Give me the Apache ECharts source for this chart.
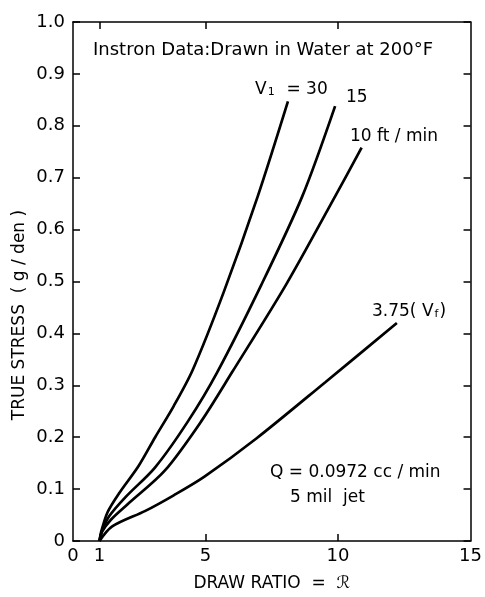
<!DOCTYPE html>
<html>
<head>
<meta charset="utf-8">
<script src="https://cdn.jsdelivr.net/npm/echarts@6/dist/echarts.min.js"></script>
<style>
  html, body { margin: 0; padding: 0; background: #fff; }
  #chart { width: 485px; height: 597px; }
</style>
</head>
<body>
<div id="chart"></div>
<script>
// draw ratio vs true stress, one list per take-up speed
var v30 = [[1,0],[1.06,0.017],[1.3,0.055],[1.74,0.092],[2.48,0.145],[3.1,0.2],[3.8,0.26],[4.52,0.33],[5.69,0.48],[6.97,0.664],[8.11,0.847]];
var v15 = [[1,0],[1.1,0.02],[1.37,0.048],[1.99,0.085],[3.1,0.142],[4.33,0.23],[5.44,0.325],[7.11,0.494],[8.65,0.664],[9.89,0.838]];
var v10 = [[1,0],[1.1,0.018],[1.43,0.041],[2.11,0.073],[3.47,0.136],[4.83,0.23],[6.0,0.325],[8.04,0.494],[9.89,0.664],[10.89,0.758]];
var v375 = [[1,0],[1.48,0.028],[2.73,0.058],[3.8,0.088],[4.96,0.124],[6.93,0.198],[9.52,0.306],[12.22,0.42]];

var xTicks = [0, 1, 5, 10, 15];
var xTickMarks = [1, 5, 10];

var font = 'DejaVu Sans';
var ink = '#000';

const chart = echarts.init(document.getElementById('chart'));

function lineSeries(d) {
    return {
        type: 'line',
        data: d,
        smooth: 0.3,
        symbol: 'none',
        lineStyle: { color: ink, width: 2.7 }
    };
}

function frameAxis(extra) {
    return Object.assign({
        axisLine: { onZero: false, lineStyle: { color: ink, width: 1.5 } },
        axisTick: { inside: true, length: 7, lineStyle: { color: ink, width: 1.5 } },
        splitLine: { show: false }
    }, extra);
}

// normal text + lowered subscript
var subRich = {
    n: { fontSize: 17, fontFamily: font, lineHeight: 22, verticalAlign: 'bottom' },
    s: { fontSize: 11, fontFamily: font, lineHeight: 9, verticalAlign: 'bottom', padding: [0, 1, 0, 1] }
};

var option = {
    backgroundColor: '#fff',
    animation: false,
    grid: { left: 73, right: 8, top: 22, bottom: 45 },
    xAxis: [
        frameAxis({
            type: 'value', min: 0, max: 15, interval: 1,
            name: 'DRAW RATIO  =  ℛ',
            nameLocation: 'middle', nameGap: 34,
            nameTextStyle: { color: ink, fontFamily: font, fontSize: 17 },
            axisTick: { inside: true, length: 7, customValues: xTickMarks, lineStyle: { color: ink, width: 1.5 } },
            axisLabel: { customValues: xTicks, color: ink, fontFamily: font, fontSize: 18, margin: 6 }
        }),
        frameAxis({
            type: 'value', min: 0, max: 15, interval: 1, position: 'top',
            axisTick: { inside: true, length: 7, customValues: xTickMarks, lineStyle: { color: ink, width: 1.5 } },
            axisLabel: { show: false }
        })
    ],
    yAxis: [
        frameAxis({
            type: 'value', min: 0, max: 1, interval: 0.1,
            axisLabel: {
                color: ink, fontFamily: font, fontSize: 18, margin: 8,
                formatter: function (v) { return v === 0 ? '0' : v.toFixed(1); }
            }
        }),
        frameAxis({
            type: 'value', min: 0, max: 1, interval: 0.1, position: 'right',
            axisLabel: { show: false }
        })
    ],
    series: [lineSeries(v30), lineSeries(v15), lineSeries(v10), lineSeries(v375)],
    graphic: [
        {
            type: 'text', x: 20, y: 315, rotation: Math.PI / 2,
            style: { text: 'TRUE STRESS  ( g / den )', fill: ink, font: '17px ' + font, align: 'center', verticalAlign: 'middle' }
        },
        { type: 'text', left: 93, top: 41, style: { text: 'Instron Data:Drawn in Water at 200°F', fill: ink, font: '18px ' + font } },
        { type: 'text', left: 255, top: 81, style: { text: '{n|V}{s|1}{n|  = 30}', fill: ink, rich: subRich } },
        { type: 'text', left: 346, top: 89, style: { text: '15', fill: ink, font: '17px ' + font } },
        { type: 'text', left: 350, top: 128, style: { text: '10 ft / min', fill: ink, font: '17px ' + font } },
        { type: 'text', left: 372, top: 303, style: { text: '{n|3.75( V}{s|f}{n|)}', fill: ink, rich: subRich } },
        { type: 'text', left: 270, top: 464, style: { text: 'Q = 0.0972 cc / min', fill: ink, font: '17px ' + font } },
        { type: 'text', left: 290, top: 489, style: { text: '5 mil  jet', fill: ink, font: '17px ' + font } }
    ]
};

option && chart.setOption(option);
</script>
</body>
</html>
